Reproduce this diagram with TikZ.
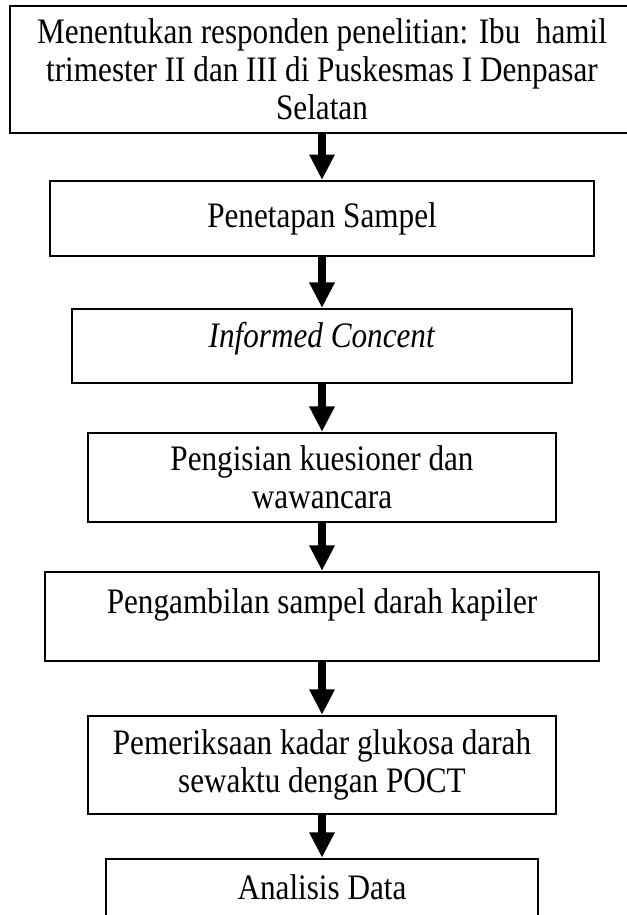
\documentclass[tikz,border=0pt]{standalone}
\usepackage{fontspec}
\setmainfont{Liberation Serif}[FakeStretch=0.87]
\usetikzlibrary{arrows.meta,positioning}
\newcommand\pxu{0.385pt}
\tikzset{b/.style 2 args={draw,line width=0.75pt,minimum width=#1*\pxu,minimum height=#2*\pxu,align=center,inner sep=0pt,font=\fontsize{13.8}{14.6}\selectfont}}

\begin{document}
\begin{tikzpicture}[x=\pxu,y=-\pxu,
    a/.style={-{Triangle[width=9.2pt,length=9.8pt]},line width=3.1pt}]
  \useasboundingbox (0,0) rectangle (626,915);
  \node[b={624}{127}] (s1) at (322,69.5) {Menentukan responden penelitian: Ibu\ \ hamil\\trimester II dan III di Puskesmas I Denpasar\\Selatan};
  \node[b={544}{75},below=17.71pt of s1] (s2) {Penetapan Sampel};
  \node[b={500}{74},text depth=8.6pt,below=19.64pt of s2] (s3) {\textit{Informed Concent}};
  \node[b={468}{89},below=18.48pt of s3] (s4) {Pengisian kuesioner dan\\wawancara};
  \node[b={554}{89},text depth=12pt,below=18.48pt of s4] (s5) {Pengambilan sampel darah kapiler};
  \node[b={468}{98},below=20.41pt of s5] (s6) {Pemeriksaan kadar glukosa darah\\sewaktu dengan POCT};
  \node[b={432}{70},text depth=5.4pt,below=16.56pt of s6] (s7) {Analisis Data};
  \draw[a] (s1)--(s2); \draw[a] (s2)--(s3); \draw[a] (s3)--(s4);
  \draw[a] (s4)--(s5); \draw[a] (s5)--(s6); \draw[a] (s6)--(s7);
\end{tikzpicture}
\end{document}
